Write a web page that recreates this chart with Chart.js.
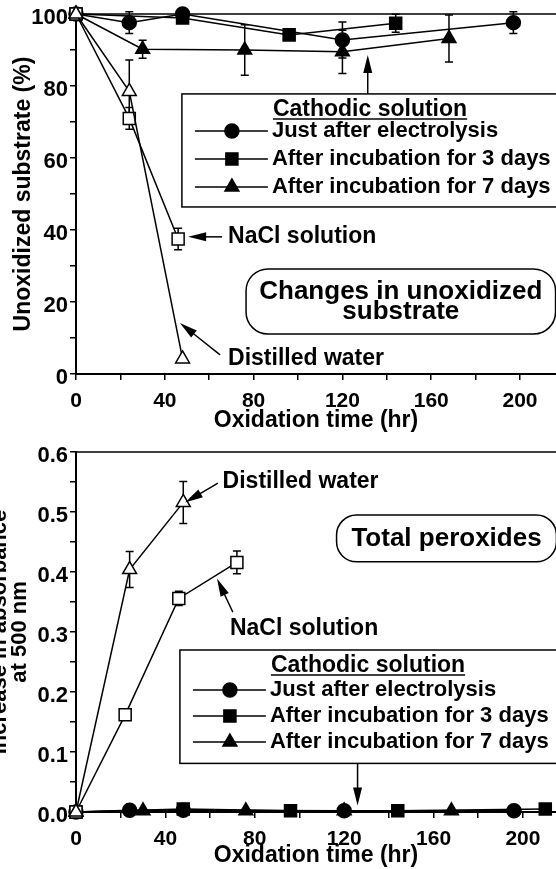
<!DOCTYPE html>
<html>
<head>
<meta charset="utf-8">
<script src="https://cdn.jsdelivr.net/npm/chart.js@4.4.1/dist/chart.umd.min.js"></script>
<style>
    html, body { margin: 0; padding: 0; background: #fff; }
    #wrap { position: relative; width: 556px; height: 869px; overflow: hidden; }
    .panel { position: absolute; left: 0; width: 556px; }
    #panelTop { top: 0; height: 434px; }
    #panelBottom { top: 434px; height: 435px; }
</style>
</head>
<body>
<div id="wrap">
    <div class="panel" id="panelTop"><canvas id="chartTop" width="556" height="434"></canvas></div>
    <div class="panel" id="panelBottom"><canvas id="chartBottom" width="556" height="435"></canvas></div>
</div>
<script>
// ---- Datos: sustrato no oxidado (%) ----
const subJustX = [0, 24, 48, 120, 197];
const subJustY = [100, 97.6, 100, 92.8, 97.6];
const subJustErr = [0, 3, 0, 5, 3];

const sub3dX = [0, 48, 96, 144];
const sub3dY = [100, 98.9, 94.2, 97.4];
const sub3dErr = [0, 0, 0, 2.5];

const sub7dX = [0, 30, 76, 120, 168];
const sub7dY = [100, 90.2, 90, 89.5, 93.2];
const sub7dErr = [0, 2.5, 7, 6, 6.5];

const subWaterX = [0, 24, 48];
const subWaterY = [100, 78.5, 4.2];
const subWaterErr = [0, 8.7, 0];

const subNaclX = [0, 24, 46];
const subNaclY = [100, 71, 37.5];
const subNaclErr = [0, 3, 3];

// ---- Datos: peróxidos totales (absorbancia a 500 nm) ----
const perJustX = [0, 24, 48, 120, 196];
const perJustY = [0, 0.003, 0.003, 0.002, 0.002];

const per3dX = [0, 48, 96, 144, 210];
const per3dY = [0, 0.005, 0.002, 0.002, 0.005];

const per7dX = [0, 30, 76, 120, 168];
const per7dY = [0, 0.002, 0.002, 0.002, 0.002];

const perWaterX = [0, 24, 48];
const perWaterY = [0, 0.404, 0.516];
const perWaterErr = [0, 0.03, 0.035];

const perNaclX = [0, 22, 46, 72];
const perNaclY = [0, 0.162, 0.356, 0.416];
const perNaclErr = [0, 0, 0.012, 0.019];

// ---- Etiquetas de ejes y leyenda ----
const xTicks = [0, 40, 80, 120, 160, 200];
const subTicks = [0, 20, 40, 60, 80, 100];
const perTicks = [0, 0.1, 0.2, 0.3, 0.4, 0.5, 0.6];
const legendTitle = 'Cathodic solution';
const legendLabels = ['Just after electrolysis', 'After incubation for 3 days', 'After incubation for 7 days'];

const FONT = '"Liberation Sans", Arial, Helvetica, sans-serif';
Chart.defaults.font.family = FONT;
Chart.defaults.font.weight = 'bold';
Chart.defaults.color = '#000';

function series(label, xs, ys, errs, style, filled) {
    return {
        label: label,
        data: xs.map((v, i) => ({ x: v, y: ys[i] })),
        errors: errs,
        borderColor: '#000',
        borderWidth: 1.5,
        tension: 0,
        fill: false,
        pointStyle: style,
        pointRadius: style === 'rect' ? 8.5 : (style === 'circle' ? 7 : 8),
        pointBackgroundColor: filled ? '#000' : '#fff',
        pointBorderColor: '#000',
        pointBorderWidth: 1.5,
        clip: false
    };
}

function arrow(ctx, x1, y1, x2, y2) {
    const a = Math.atan2(y2 - y1, x2 - x1);
    const len = 18, half = 4.5;
    ctx.beginPath();
    ctx.moveTo(x1, y1);
    ctx.lineTo(x2 - Math.cos(a) * len * 0.7, y2 - Math.sin(a) * len * 0.7);
    ctx.stroke();
    ctx.beginPath();
    ctx.moveTo(x2, y2);
    ctx.lineTo(x2 - len * Math.cos(a) + half * Math.sin(a), y2 - len * Math.sin(a) - half * Math.cos(a));
    ctx.lineTo(x2 - len * Math.cos(a) - half * Math.sin(a), y2 - len * Math.sin(a) + half * Math.cos(a));
    ctx.closePath();
    ctx.fill();
}

// Plugin: barras de error, marco, leyenda y anotaciones
const notesPlugin = {
    id: 'notes',
    beforeDatasetsDraw(chart) {
        const { ctx, chartArea, scales: { x, y } } = chart;
        ctx.save();
        ctx.strokeStyle = '#000';
        ctx.lineWidth = 1.5;
        // linea superior del marco
        ctx.beginPath();
        ctx.moveTo(chartArea.left, chartArea.top);
        ctx.lineTo(chartArea.right, chartArea.top);
        ctx.stroke();
        chart.data.datasets.forEach(ds => {
            if (!ds.errors) return;
            ds.data.forEach((p, i) => {
                const e = ds.errors[i];
                if (!e) return;
                const px = x.getPixelForValue(p.x);
                const y1 = y.getPixelForValue(p.y - e);
                const y2 = y.getPixelForValue(p.y + e);
                ctx.beginPath();
                ctx.moveTo(px, y1); ctx.lineTo(px, y2);
                ctx.moveTo(px - 4, y1); ctx.lineTo(px + 4, y1);
                ctx.moveTo(px - 4, y2); ctx.lineTo(px + 4, y2);
                ctx.stroke();
            });
        });
        ctx.restore();
    },
    afterDraw(chart, args, opts) {
        const { ctx, scales: { x, y } } = chart;
        if (!opts || !opts.box) return;
        ctx.save();
        ctx.strokeStyle = '#000';
        ctx.fillStyle = '#000';
        ctx.lineWidth = 1.5;

        // caja redondeada con titulo
        const b = opts.box;
        const bx1 = x.getPixelForValue(b.x1), bx2 = x.getPixelForValue(b.x2);
        const by1 = y.getPixelForValue(b.y1), by2 = y.getPixelForValue(b.y2);
        ctx.beginPath();
        ctx.roundRect(bx1, by1, bx2 - bx1, by2 - by1, b.r);
        ctx.stroke();
        ctx.font = 'bold 26px ' + FONT;
        ctx.textAlign = 'center';
        ctx.textBaseline = 'middle';
        const cx = (bx1 + bx2) / 2, cy = (by1 + by2) / 2;
        b.lines.forEach((t, i) => {
            ctx.fillText(t, cx, cy + (i - (b.lines.length - 1) / 2) * 20);
        });

        // etiquetas y flechas
        ctx.font = 'bold 23px ' + FONT;
        ctx.textAlign = 'left';
        opts.labels.forEach(l => {
            ctx.fillText(l.text, x.getPixelForValue(l.x), y.getPixelForValue(l.y));
        });
        opts.arrows.forEach(a => {
            arrow(ctx, x.getPixelForValue(a[0]), y.getPixelForValue(a[1]),
                x.getPixelForValue(a[2]), y.getPixelForValue(a[3]));
        });

        // leyenda
        const lg = opts.legend;
        const left = x.getPixelForValue(lg.x);
        const top = y.getPixelForValue(lg.top);
        const bottom = y.getPixelForValue(lg.bottom);
        ctx.fillStyle = '#fff';
        ctx.fillRect(left, top, 600, bottom - top);
        ctx.strokeRect(left, top, 600, bottom - top);
        ctx.fillStyle = '#000';
        ctx.font = 'bold 23px ' + FONT;
        ctx.fillText(legendTitle, left + 91, top + 16);
        const tw = ctx.measureText(legendTitle).width;
        ctx.beginPath();
        ctx.moveTo(left + 91, top + 25);
        ctx.lineTo(left + 91 + tw, top + 25);
        ctx.stroke();
        ctx.font = 'bold 22px ' + FONT;
        lg.rows.forEach((dy, i) => {
            const txt = legendLabels[i];
            const ds = chart.data.datasets.find(d => d.label === txt);
            const ry = top + dy;
            ctx.beginPath();
            ctx.moveTo(left + 13, ry);
            ctx.lineTo(left + 86, ry);
            ctx.stroke();
            Chart.helpers.drawPoint(ctx, {
                pointStyle: ds.pointStyle, rotation: 0,
                radius: ds.pointRadius, borderWidth: 1.5
            }, left + 50, ry);
            ctx.fillText(txt, left + 90, ry);
        });
        ctx.restore();
    }
};

function xScale(max, h) {
    return {
        type: 'linear', min: 0, max: max,
        ticks: {
            stepSize: 20, includeBounds: false, autoSkip: false, maxRotation: 0, padding: 9,
            font: { size: 21, weight: 'bold' },
            callback: v => xTicks.includes(v) ? String(v) : ''
        },
        grid: { drawOnChartArea: false, drawTicks: true, tickLength: 6, color: '#000', lineWidth: 1.5 },
        border: { display: true, color: '#000', width: 2 },
        title: { display: true, text: 'Oxidation time (hr)', font: { size: 23, weight: 'bold' }, padding: 0 },
        afterFit: s => { s.height = h; s.paddingLeft = 0; s.paddingRight = 0; }
    };
}

function yScale(max, step, labels, fmt, title) {
    return {
        type: 'linear', min: 0, max: max,
        ticks: {
            stepSize: step, autoSkip: false, padding: 2, labelOffset: 4,
            font: { size: 22, weight: 'bold' },
            callback: v => labels.some(t => Math.abs(t - v) < 1e-9) ? fmt(v) : ''
        },
        grid: { drawOnChartArea: false, drawTicks: true, tickLength: 6, color: '#000', lineWidth: 1.5 },
        border: { display: true, color: '#000', width: 2 },
        title: title,
        afterFit: s => { s.width = 76; s.paddingTop = 0; s.paddingBottom = 0; }
    };
}

function options(pad, xs, ys, notes) {
    return {
        responsive: false,
        animation: false,
        layout: { padding: pad, autoPadding: false },
        plugins: { legend: { display: false }, tooltip: { enabled: false }, notes: notes },
        scales: { x: xs, y: ys }
    };
}

// ---- Grafica superior: sustrato no oxidado ----
new Chart(document.getElementById('chartTop'), {
    type: 'line',
    data: {
        datasets: [
            series('Distilled water', subWaterX, subWaterY, subWaterErr, 'triangle', false),
            series('NaCl solution', subNaclX, subNaclY, subNaclErr, 'rect', false),
            series(legendLabels[0], subJustX, subJustY, subJustErr, 'circle', true),
            series(legendLabels[1], sub3dX, sub3dY, sub3dErr, 'rect', true),
            series(legendLabels[2], sub7dX, sub7dY, sub7dErr, 'triangle', true)
        ]
    },
    options: options(
        { left: 0, top: 14, right: 0, bottom: 0 },
        xScale(216.2, 60),
        yScale(100, 10, subTicks, v => String(v), {
            display: true, text: 'Unoxidized substrate (%)',
            font: { size: 23, weight: 'bold' }, padding: { top: 10, bottom: 0 }
        }),
        {
            box: { x1: 76.6, x2: 216, y1: 29.2, y2: 11.1, r: 22, lines: ['Changes in unoxidized', 'substrate'] },
            labels: [
                { text: 'NaCl solution', x: 68.5, y: 38.1 },
                { text: 'Distilled water', x: 68.5, y: 4.4 }
            ],
            arrows: [[131.4, 77.8, 131.4, 88.6], [65.8, 38.1, 50.5, 38.1], [64.9, 5.3, 46.8, 14.2]],
            legend: { x: 47.7, top: 77.8, bottom: 46.4, rows: [37, 65, 93] }
        }
    ),
    plugins: [notesPlugin]
});

// ---- Grafica inferior: peroxidos totales ----
new Chart(document.getElementById('chartBottom'), {
    type: 'line',
    data: {
        datasets: [
            series('Distilled water', perWaterX, perWaterY, perWaterErr, 'triangle', false),
            series('NaCl solution', perNaclX, perNaclY, perNaclErr, 'rect', false),
            series(legendLabels[0], perJustX, perJustY, null, 'circle', true),
            series(legendLabels[1], per3dX, per3dY, null, 'rect', true),
            series(legendLabels[2], per7dX, per7dY, null, 'triangle', true)
        ]
    },
    options: options(
        { left: 0, top: 18, right: 0, bottom: 0 },
        xScale(214.8, 57),
        yScale(0.6, 0.05, perTicks, v => v.toFixed(1), {
            display: true, text: ['Increase in absorbance', 'at 500 nm'],
            font: { size: 22, weight: 'bold', lineHeight: 0.88 }, padding: { top: -9.5, bottom: 0 }
        }),
        {
            box: { x1: 116.6, x2: 215, y1: 0.495, y2: 0.417, r: 20, lines: ['Total peroxides'] },
            labels: [
                { text: 'Distilled water', x: 65.6, y: 0.55 },
                { text: 'NaCl solution', x: 68.9, y: 0.306 }
            ],
            arrows: [[63.5, 0.548, 48.8, 0.516], [70.2, 0.333, 63.1, 0.389], [126, 0.081, 126, 0.011]],
            legend: { x: 46.5, top: 0.27, bottom: 0.081, rows: [40, 66, 92] }
        }
    ),
    plugins: [notesPlugin]
});
</script>
</body>
</html>
